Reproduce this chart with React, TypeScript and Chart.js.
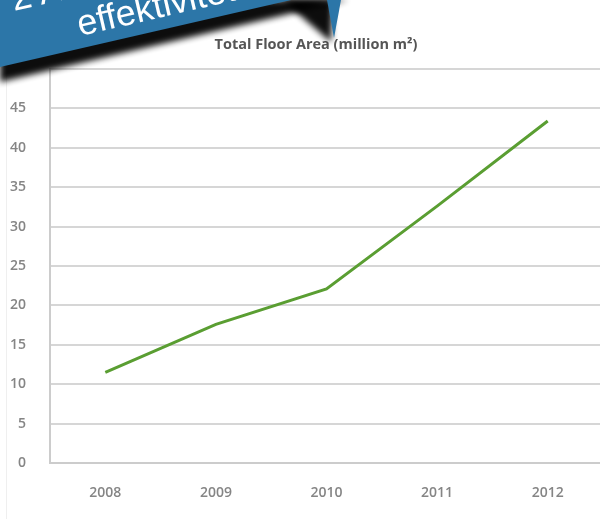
import React, { useEffect, useRef } from "react";
import { Chart, registerables } from "chart.js";

Chart.register(...registerables);

const years = ["2008", "2009", "2010", "2011", "2012"];
const floorArea = [11.5, 17.6, 22.1, 32.6, 43.4];
const yMin = 0;
const yMax = 50;
const yStep = 5;
const chartTitle = "Total Floor Area (million m²)";
const bannerLines = ["2 Att öka energi-", "effektiviteten"];

export default function App() {
  const canvasRef = useRef<HTMLCanvasElement | null>(null);

  useEffect(() => {
    const canvas = canvasRef.current;
    if (!canvas) return;
    const chart = new Chart(canvas, {
      type: "line",
      data: {
        labels: years,
        datasets: [
          {
            label: chartTitle,
            data: floorArea,
            borderColor: "#5a9e32",
            backgroundColor: "#5a9e32",
            borderWidth: 3,
            pointRadius: 0,
            tension: 0,
            fill: false,
            yAxisID: "y",
          },
        ],
      },
      options: {
        responsive: false,
        animation: false,
        layout: { padding: 0 },
        plugins: {
          legend: { display: false },
          tooltip: { enabled: false },
          title: {
            display: true,
            text: chartTitle,
            color: "#555555",
            font: { family: "'Open Sans', sans-serif", size: 14.5, weight: "bold" },
            padding: { top: 36, bottom: 15.6 },
          },
        },
        scales: {
          x: {
            offset: true,
            grid: { display: false, drawTicks: false },
            border: { display: true, color: "#cccccc", width: 2 },
            ticks: {
              color: "#858585",
              font: { family: "'Open Sans', sans-serif", size: 14, weight: "600" },
              padding: 22,
              maxRotation: 0,
            },
            afterFit: (scale: any) => {
              scale.height = 56;
            },
          },
          y: {
            min: yMin,
            max: yMax,
            grid: { color: "#d6d6d6", lineWidth: 2, drawTicks: false },
            border: { display: true, color: "#cccccc", width: 2 },
            ticks: {
              stepSize: yStep,
              color: "#858585",
              font: { family: "'Open Sans', sans-serif", size: 14, weight: "600" },
              padding: 24,
              callback: (v: any) => (Number(v) === yMax ? "" : String(v)),
            },
            afterFit: (scale: any) => {
              scale.width = 50;
            },
          },
          yRight: {
            type: "linear",
            position: "right",
            display: true,
            grid: { display: false, drawTicks: false },
            border: { display: false },
            ticks: { display: false },
            afterFit: (scale: any) => {
              scale.width = 29;
            },
          },
        },
      },
    });
    return () => chart.destroy();
  }, []);

  return (
    <div
      style={{
        position: "fixed",
        left: 0,
        top: 0,
        width: 600,
        height: 519,
        overflow: "hidden",
        background: "#ffffff",
      }}
    >
      <div
        style={{
          position: "absolute",
          left: 6,
          top: 0,
          width: 1,
          height: 519,
          background: "#efefef",
        }}
      />
      <canvas
        ref={canvasRef}
        width={632}
        height={519}
        style={{ position: "absolute", left: 0, top: 0, width: 632, height: 519 }}
      />
      <svg
        width={600}
        height={130}
        style={{ position: "absolute", left: 0, top: 0, pointerEvents: "none" }}
      >
        <defs>
          <filter id="shadowBlur" x="-20%" y="-50%" width="140%" height="200%">
            <feGaussianBlur stdDeviation="3" />
          </filter>
        </defs>
        <polygon points="0,0 348,0 0,82" fill="#000" opacity={0.95} filter="url(#shadowBlur)" />
        <polygon points="282,0 333,0 331,42" fill="#000" opacity={0.95} filter="url(#shadowBlur)" />
        <polygon points="0,0 291,0 0,67" fill="#2c76a8" />
        <polygon points="327,0 341,0 334,38" fill="#2c76a8" />
        <text
          transform="translate(14,11) rotate(-13)"
          fill="#ffffff"
          fontFamily="'Liberation Sans', Arial, sans-serif"
          fontSize={36}
        >
          {bannerLines[0]}
        </text>
        <text
          transform="translate(80,36) rotate(-13)"
          fill="#ffffff"
          fontFamily="'Liberation Sans', Arial, sans-serif"
          fontSize={36}
        >
          {bannerLines[1]}
        </text>
      </svg>
    </div>
  );
}
